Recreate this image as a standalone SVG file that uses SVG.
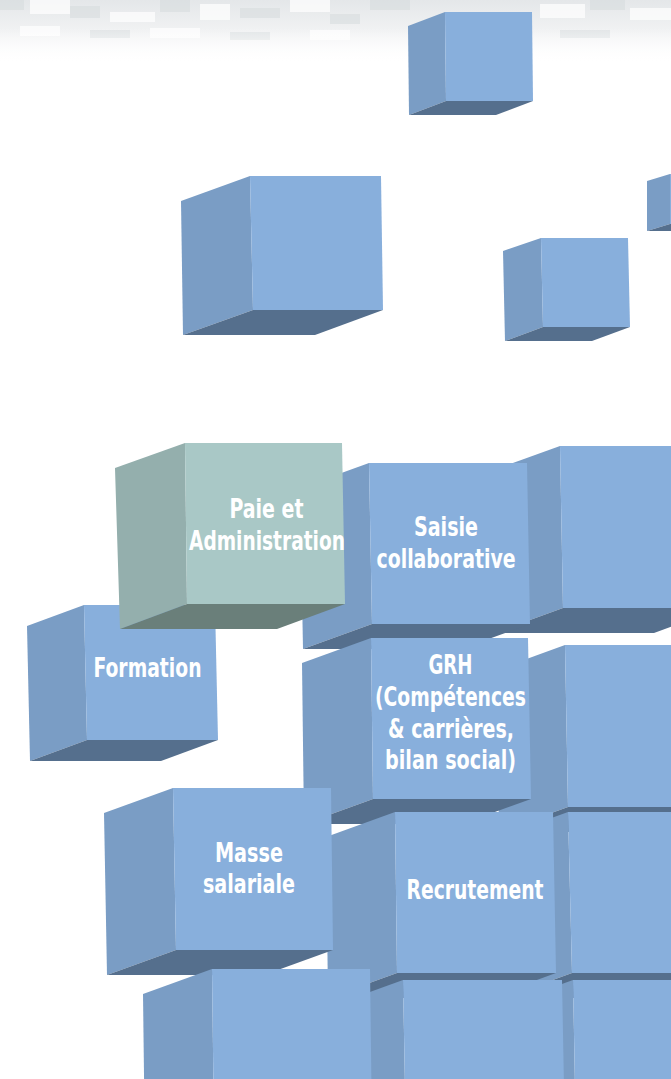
<svg xmlns="http://www.w3.org/2000/svg" width="671" height="1079" viewBox="0 0 671 1079">
<defs>
<linearGradient id="haze" x1="0" y1="0" x2="0" y2="1">
<stop offset="0" stop-color="#e4e7e9"/>
<stop offset="0.5" stop-color="#f1f2f3"/>
<stop offset="1" stop-color="#ffffff"/>
</linearGradient>
<linearGradient id="hazeFade" x1="0" y1="0" x2="0" y2="1">
<stop offset="0" stop-color="#fff" stop-opacity="0"/>
<stop offset="1" stop-color="#fff" stop-opacity="1"/>
</linearGradient>
</defs>
<style>
.f{fill:#88afdc}
.s{fill:#7a9dc5}
.b{fill:#556f8d}
.gf{fill:#a9c8c6}
.gs{fill:#94afad}
.gb{fill:#6a7f7a}
.lbl{font-family:"Liberation Sans Narrow","DejaVu Sans Condensed","Liberation Sans",Arial,sans-serif;font-weight:bold;font-size:26px;fill:#ffffff;text-anchor:middle}
.px{fill:#d6dadd;opacity:0.55}
.px2{fill:#ffffff;opacity:0.7}
</style>
<rect width="671" height="1079" fill="#ffffff"/>
<g id="background-haze">
<rect x="0" y="0" width="671" height="62" fill="url(#haze)"/>
<rect class="px" x="0" y="0" width="24" height="10"/>
<rect class="px2" x="30" y="0" width="40" height="14"/>
<rect class="px" x="70" y="6" width="30" height="12"/>
<rect class="px2" x="110" y="12" width="45" height="10"/>
<rect class="px" x="160" y="0" width="30" height="12"/>
<rect class="px2" x="200" y="4" width="30" height="16"/>
<rect class="px" x="240" y="8" width="40" height="10"/>
<rect class="px2" x="290" y="0" width="40" height="12"/>
<rect class="px" x="330" y="14" width="30" height="10"/>
<rect class="px" x="370" y="0" width="40" height="10"/>
<rect class="px2" x="540" y="4" width="45" height="14"/>
<rect class="px" x="590" y="0" width="35" height="10"/>
<rect class="px2" x="630" y="8" width="41" height="12"/>
<rect class="px2" x="20" y="26" width="40" height="10"/>
<rect class="px" x="90" y="30" width="40" height="8"/>
<rect class="px2" x="150" y="28" width="50" height="10"/>
<rect class="px" x="230" y="32" width="40" height="8"/>
<rect class="px2" x="310" y="30" width="40" height="10"/>
<rect class="px" x="560" y="30" width="50" height="8"/>
<rect x="0" y="28" width="671" height="36" fill="url(#hazeFade)"/>
</g>
<g id="connectors"/>
<g id="cube-top">
<polygon class="s" points="408,26 445,12 446,101 409,115"/>
<polygon class="b" points="446,101 533,101 496,115 409,115"/>
<polygon class="f" points="445,12 532,12 533,101 446,101"/>
</g>
<g id="cube-large">
<polygon class="s" points="181,201 250,176 253,310 183,335"/>
<polygon class="b" points="253,310 383,310 315,335 183,335"/>
<polygon class="f" points="250,176 381,176 383,310 253,310"/>
</g>
<g id="cube-small">
<polygon class="s" points="503,251 541,238 543,327 505,341"/>
<polygon class="b" points="543,327 630,327 592,341 505,341"/>
<polygon class="f" points="541,238 628,238 630,327 543,327"/>
</g>
<g id="cube-edge">
<polygon class="s" points="647,181 670,174 670,224 647,231"/>
<polygon class="b" points="647,231 670,224 700,224 677,231"/>
<polygon class="f" points="670,174 700,174 700,224 670,224"/>
</g>
<g id="cube-right-1">
<polygon class="s" points="491,471 560,446 563,608 494,633"/>
<polygon class="b" points="563,608 723,608 654,633 494,633"/>
<polygon class="f" points="560,446 720,446 723,608 563,608"/>
</g>
<g id="cube-saisie">
<polygon class="s" points="300,488 369,463 372,624 303,649"/>
<polygon class="b" points="372,624 530,624 461,649 303,649"/>
<polygon class="f" points="369,463 527,463 530,624 372,624"/>
<text class="lbl" x="446" y="536" textLength="64" lengthAdjust="spacingAndGlyphs">Saisie</text>
<text class="lbl" x="446" y="567.5" textLength="139" lengthAdjust="spacingAndGlyphs">collaborative</text>
</g>
<g id="cube-right-2">
<polygon class="s" points="496,670 565,645 568,807 499,832"/>
<polygon class="b" points="568,807 728,807 659,832 499,832"/>
<polygon class="f" points="565,645 725,645 728,807 568,807"/>
</g>
<g id="cube-grh">
<polygon class="s" points="302,663 371,638 373,799 304,824"/>
<polygon class="b" points="373,799 531,799 462,824 304,824"/>
<polygon class="f" points="371,638 528,638 531,799 373,799"/>
<text class="lbl" x="450.5" y="674" textLength="44" lengthAdjust="spacingAndGlyphs">GRH</text>
<text class="lbl" x="450.5" y="706" textLength="151" lengthAdjust="spacingAndGlyphs">(Compétences</text>
<text class="lbl" x="451" y="737.5" textLength="126" lengthAdjust="spacingAndGlyphs">&amp; carrières,</text>
<text class="lbl" x="450.5" y="768.5" textLength="131" lengthAdjust="spacingAndGlyphs">bilan social)</text>
</g>
<g id="cube-right-3">
<polygon class="s" points="499,837 568,812 572,973 503,998"/>
<polygon class="b" points="572,973 732,973 663,998 503,998"/>
<polygon class="f" points="568,812 728,812 732,973 572,973"/>
</g>
<g id="cube-recrutement">
<polygon class="s" points="326,837 395,812 397,973 328,998"/>
<polygon class="b" points="397,973 556,973 487,998 328,998"/>
<polygon class="f" points="395,812 553,812 556,973 397,973"/>
<text class="lbl" x="475" y="899" textLength="137" lengthAdjust="spacingAndGlyphs">Recrutement</text>
</g>
<g id="cube-masse">
<polygon class="s" points="104,813 173,788 176,950 107,975"/>
<polygon class="b" points="176,950 333,950 264,975 107,975"/>
<polygon class="f" points="173,788 331,788 333,950 176,950"/>
<text class="lbl" x="249" y="861.5" textLength="68" lengthAdjust="spacingAndGlyphs">Masse</text>
<text class="lbl" x="249" y="893" textLength="92" lengthAdjust="spacingAndGlyphs">salariale</text>
</g>
<g id="cube-bottom-right">
<polygon class="s" points="504,1005 573,980 576,1141 507,1166"/>
<polygon class="f" points="573,980 733,980 736,1141 576,1141"/>
</g>
<g id="cube-bottom-middle">
<polygon class="s" points="334,1005 403,980 406,1141 337,1166"/>
<polygon class="f" points="403,980 562,980 565,1141 406,1141"/>
</g>
<g id="cube-bottom-left">
<polygon class="s" points="143,994 212,969 214,1130 145,1155"/>
<polygon class="f" points="212,969 370,969 372,1130 214,1130"/>
</g>
<g id="cube-formation">
<polygon class="s" points="27,626 84,605 87,740 30,761"/>
<polygon class="b" points="87,740 218,740 161,761 30,761"/>
<polygon class="f" points="84,605 215,605 218,740 87,740"/>
<text class="lbl" x="147.5" y="677" textLength="108" lengthAdjust="spacingAndGlyphs">Formation</text>
</g>
<g id="cube-paie">
<polygon class="gs" points="115,468 185,443 187,604 120,629"/>
<polygon class="gb" points="187,604 345,604 277,629 120,629"/>
<polygon class="gf" points="185,443 342,443 345,604 187,604"/>
<text class="lbl" x="266.5" y="518" textLength="74" lengthAdjust="spacingAndGlyphs">Paie et</text>
<text class="lbl" x="267" y="550" textLength="156" lengthAdjust="spacingAndGlyphs">Administration</text>
</g>
</svg>
